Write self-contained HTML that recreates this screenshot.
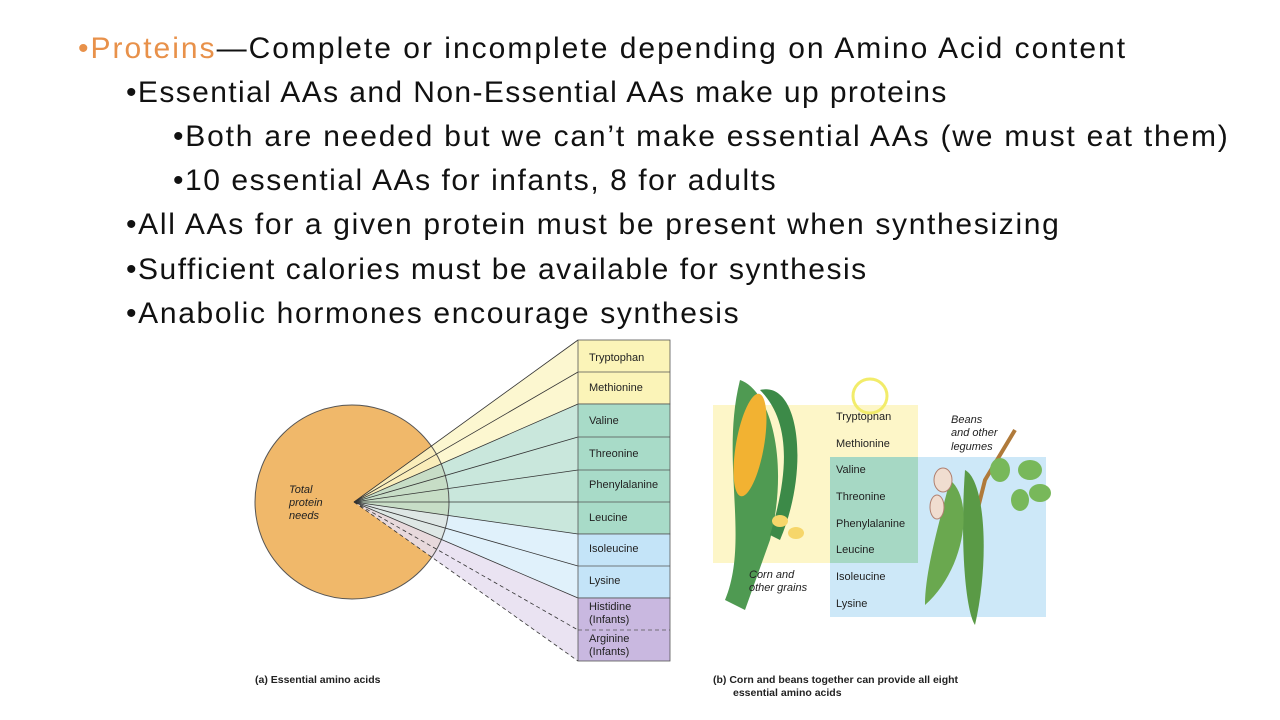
<!DOCTYPE html>
<html><head><meta charset="utf-8"><style>
body{margin:0;width:1280px;height:720px;background:#fff;overflow:hidden;position:relative;font-family:"Liberation Sans",sans-serif}
.t{position:absolute;font-size:30px;color:#111;white-space:nowrap;line-height:34px;letter-spacing:1.8px}
.o{color:#e8914a}
svg{position:absolute;left:0;top:0}
</style></head><body>
<div class="t" style="left:78px;top:32px;letter-spacing:2px"><span class="o">•Proteins</span>—Complete or incomplete depending on Amino Acid content</div>
<div class="t" style="left:126px;top:76px;letter-spacing:1.4px">•Essential AAs and Non-Essential AAs make up proteins</div>
<div class="t" style="left:173px;top:120px">•Both are needed but we can’t make essential AAs (we must eat them)</div>
<div class="t" style="left:173px;top:164px;letter-spacing:1.55px">•10 essential AAs for infants, 8 for adults</div>
<div class="t" style="left:126px;top:208px;letter-spacing:1.67px">•All AAs for a given protein must be present when synthesizing</div>
<div class="t" style="left:126px;top:253px;letter-spacing:1.5px">•Sufficient calories must be available for synthesis</div>
<div class="t" style="left:126px;top:297px;letter-spacing:1.67px">•Anabolic hormones encourage synthesis</div>
<svg width="1280" height="720" font-family="Liberation Sans, sans-serif">
<circle cx="352" cy="502" r="97" fill="#f0b86a"/>
<text font-size="11" font-style="italic" fill="#222"><tspan x="289" y="493">Total</tspan><tspan x="289" y="506">protein</tspan><tspan x="289" y="519">needs</tspan></text>
<polygon points="354,502 578,340 578,404" fill="#fbf6c8" opacity=".85"/>
<polygon points="354,502 578,404 578,534" fill="#bfe3d6" opacity=".85"/>
<polygon points="354,502 578,534 578,598" fill="#dbeefa" opacity=".85"/>
<polygon points="354,502 578,598 578,661" fill="#e6def0" opacity=".85"/>
<circle cx="352" cy="502" r="97" fill="none" stroke="#555" stroke-width="1"/>
<g stroke="#333" stroke-width="0.8">
<line x1="354" y1="502" x2="578" y2="340"/><line x1="354" y1="502" x2="578" y2="372"/><line x1="354" y1="502" x2="578" y2="404"/><line x1="354" y1="502" x2="578" y2="437"/><line x1="354" y1="502" x2="578" y2="470"/><line x1="354" y1="502" x2="578" y2="502"/><line x1="354" y1="502" x2="578" y2="534"/><line x1="354" y1="502" x2="578" y2="566"/><line x1="354" y1="502" x2="578" y2="598"/>
<line x1="354" y1="502" x2="578" y2="630" stroke-dasharray="4,3"/><line x1="354" y1="502" x2="578" y2="661" stroke-dasharray="4,3"/>
</g>
<g stroke="#555" stroke-width="0.8">
<rect x="578" y="340" width="92" height="64" fill="#fbf4b8"/>
<rect x="578" y="404" width="92" height="130" fill="#a8dbc8"/>
<rect x="578" y="534" width="92" height="64" fill="#c4e4f8"/>
<rect x="578" y="598" width="92" height="63" fill="#c9b8e0"/>
<line x1="578" y1="372" x2="670" y2="372"/><line x1="578" y1="437" x2="670" y2="437"/><line x1="578" y1="470" x2="670" y2="470"/><line x1="578" y1="502" x2="670" y2="502"/><line x1="578" y1="566" x2="670" y2="566"/>
<line x1="578" y1="630" x2="670" y2="630" stroke-dasharray="4,3"/>
</g>
<g font-size="11" fill="#222">
<text x="589" y="361">Tryptophan</text><text x="589" y="391">Methionine</text><text x="589" y="424">Valine</text><text x="589" y="457">Threonine</text><text x="589" y="488">Phenylalanine</text><text x="589" y="521">Leucine</text><text x="589" y="552">Isoleucine</text><text x="589" y="584">Lysine</text>
<text x="589" y="610">Histidine</text><text x="589" y="623">(Infants)</text><text x="589" y="642">Arginine</text><text x="589" y="655">(Infants)</text>
<text x="255" y="683" font-weight="bold" font-size="10.5">(a)  Essential amino acids</text>
<text x="713" y="683" font-weight="bold" font-size="10.5">(b)  Corn and beans together can provide all eight</text>
<text x="733" y="696" font-weight="bold" font-size="10.5">essential amino acids</text>
</g>
<rect x="713" y="405" width="205" height="158" fill="#fdf6c8"/>
<rect x="830" y="457" width="216" height="160" fill="#cde8f8"/>
<rect x="830" y="457" width="88" height="106" fill="#a6d8c4"/>
<path d="M740,380 C770,390 790,460 770,540 L745,610 L725,600 C750,540 720,460 740,380Z" fill="#4f9a52"/>
<ellipse cx="750" cy="445" rx="14" ry="52" fill="#f2b232" transform="rotate(10 750 445)"/>
<path d="M760,390 C800,380 810,470 780,540 L770,535 C790,470 790,420 760,390Z" fill="#3c8a48"/>
<ellipse cx="780" cy="521" rx="8" ry="6" fill="#f6d66a"/><ellipse cx="796" cy="533" rx="8" ry="6" fill="#f6d66a"/>
<path d="M1015,430 L985,480 L975,520" stroke="#b07a3a" stroke-width="4" fill="none"/>
<path d="M965,470 C985,480 990,560 975,625 C965,610 960,540 965,470Z" fill="#5a9a46"/>
<path d="M950,480 C975,500 965,570 925,605 C925,570 940,520 950,480Z" fill="#6aa84f"/>
<ellipse cx="1030" cy="470" rx="12" ry="10" fill="#78b85a"/><ellipse cx="1040" cy="493" rx="11" ry="9" fill="#78b85a"/><ellipse cx="1000" cy="470" rx="10" ry="12" fill="#78b85a"/><ellipse cx="1020" cy="500" rx="9" ry="11" fill="#78b85a"/>
<ellipse cx="943" cy="480" rx="9" ry="12" fill="#f0ddd0" stroke="#b08070"/><ellipse cx="937" cy="507" rx="7" ry="12" fill="#f0ddd0" stroke="#b08070"/>
<g font-size="11" fill="#222">
<text x="836" y="420">Tryptophan</text><text x="836" y="447">Methionine</text><text x="836" y="473">Valine</text><text x="836" y="500">Threonine</text><text x="836" y="527">Phenylalanine</text><text x="836" y="553">Leucine</text><text x="836" y="580">Isoleucine</text><text x="836" y="607">Lysine</text>
<text font-style="italic"><tspan x="749" y="578">Corn and</tspan><tspan x="749" y="591">other grains</tspan></text>
<text font-style="italic"><tspan x="951" y="423">Beans</tspan><tspan x="951" y="436">and other</tspan><tspan x="951" y="450">legumes</tspan></text>
</g>
<circle cx="870" cy="396" r="17" fill="none" stroke="#f2ec6a" stroke-width="3"/>
</svg>
</body></html>
